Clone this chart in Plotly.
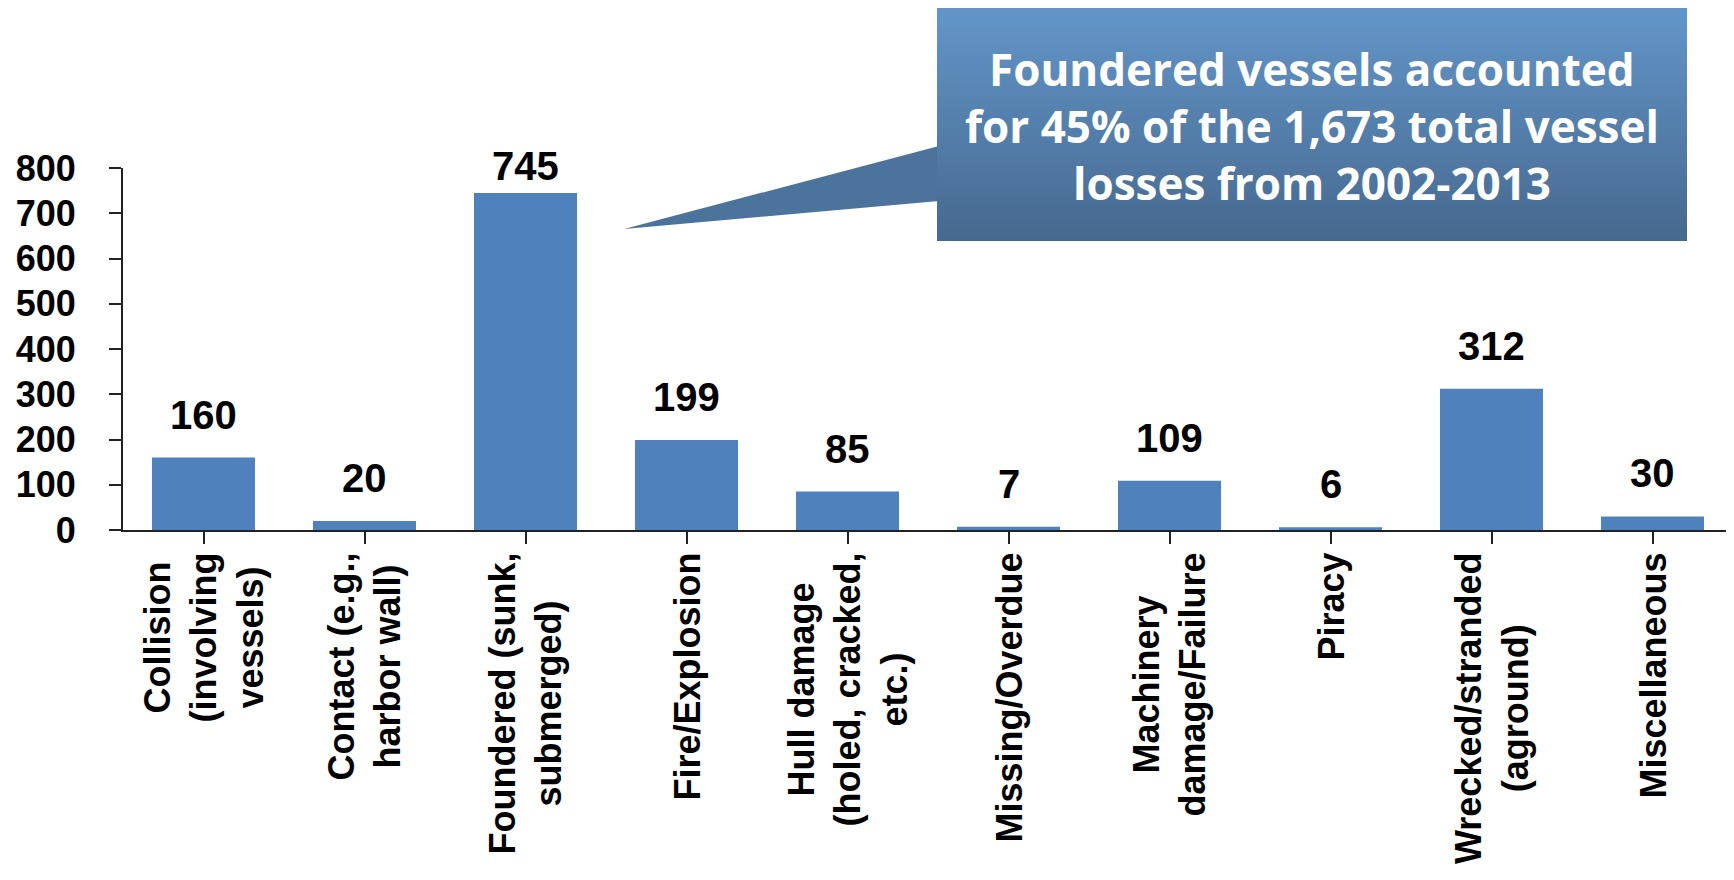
import plotly.graph_objects as go

# vessel losses by cause, 2002-2013
categories = [
    "Collision<br>(involving<br>vessels)",
    "Contact (e.g.,<br>harbor wall)",
    "Foundered (sunk,<br>submerged)",
    "Fire/Explosion",
    "Hull damage<br>(holed, cracked,<br>etc.)",
    "Missing/Overdue",
    "Machinery<br>damage/Failure",
    "Piracy",
    "Wrecked/stranded<br>(aground)",
    "Miscellaneous",
]
losses = [160, 20, 745, 199, 85, 7, 109, 6, 312, 30]
y_ticks = [0, 100, 200, 300, 400, 500, 600, 700, 800]

callout_lines = [
    "Foundered vessels accounted",
    "for 45% of the 1,673 total vessel",
    "losses from 2002-2013",
]

BAR_COLOR = "#4F81BD"
FONT = "Liberation Sans, Arial, sans-serif"

# page body has an 8px margin, so the figure is shrunk and shifted to suit
OFF = 8
W, H = 1734 - OFF, 880 - OFF
L, T, R = 123 - OFF, 168 - OFF, 1
PW, PH = W - L - R, 362
B = H - T - PH


# screen pixel -> paper coords
def px_x(x):
    return (x - OFF - L) / PW


def px_y(y):
    return (T + PH - (y - OFF)) / PH


fig = go.Figure()
fig.add_trace(go.Bar(
    x=list(range(len(categories))),
    y=losses,
    marker=dict(color=BAR_COLOR, line=dict(width=0)),
    width=0.64,
    hoverinfo="skip",
))

annotations = []

# value labels above bars (tallest one pushed down to fit)
label_cap = 709
for i, v in enumerate(losses):
    annotations.append(dict(
        x=i, y=min(v, label_cap), xref="x", yref="y",
        text=f"<b>{v}</b>", showarrow=False,
        yanchor="middle", yshift=43,
        font=dict(family=FONT, size=40, color="black"),
    ))

# category labels, rotated and centered
for i, c in enumerate(categories):
    annotations.append(dict(
        x=i, y=0, xref="x", yref="y",
        text=f"<b>{c}</b>", showarrow=False,
        textangle=-90, align="center",
        yanchor="top", yshift=-21,
        font=dict(family=FONT, size=36, color="black"),
    ))

# callout box with vertical gradient
top_rgb = (99, 150, 201)
bot_rgb = (70, 105, 143)
box_l, box_r, box_t, box_b = 937, 1687, 6, 241
n_strips = 47
step = (box_b - box_t) / n_strips
shapes = []

tail_y = 190
f = (tail_y - box_t) / (box_b - box_t)
tail_rgb = tuple(round(a + (b - a) * f) for a, b in zip(top_rgb, bot_rgb))
tail_path = "M {} {} L {} {} L {} {} Z".format(
    px_x(box_l + 2), px_y(146), px_x(624), px_y(229), px_x(box_l + 2), px_y(201))
shapes.append(dict(type="path", xref="paper", yref="paper", path=tail_path,
                   fillcolor="rgb({},{},{})".format(*tail_rgb), line=dict(width=0), layer="above"))

for k in range(n_strips):
    f = (k + 0.5) / n_strips
    rgb = tuple(round(a + (b - a) * f) for a, b in zip(top_rgb, bot_rgb))
    y0 = box_t + k * step
    y1 = min(box_t + (k + 1) * step + 0.8, box_b)
    shapes.append(dict(
        type="rect", xref="paper", yref="paper",
        x0=px_x(box_l), x1=px_x(box_r), y0=px_y(y1), y1=px_y(y0),
        fillcolor="rgb({},{},{})".format(*rgb), line=dict(width=0), layer="above",
    ))

# callout text, one annotation per line for tighter spacing
line_y = [69, 126, 183]
for ln, yy in zip(callout_lines, line_y):
    annotations.append(dict(
        x=px_x((box_l + box_r) / 2), y=px_y(yy),
        xref="paper", yref="paper", showarrow=False,
        xanchor="center", yanchor="middle",
        text=f"<b>{ln}</b>",
        font=dict(family="Open Sans, Lato, sans-serif", size=44, color="white"),
    ))

fig.update_layout(
    width=W, height=H,
    margin=dict(l=L, r=R, t=T, b=B, pad=0),
    plot_bgcolor="white", paper_bgcolor="white",
    showlegend=False,
    bargap=0.36,
    shapes=shapes,
    annotations=annotations,
    xaxis=dict(
        range=[-0.5, len(categories) - 0.5],
        tickmode="array", tickvals=list(range(len(categories))),
        showticklabels=False,
        tickson="boundaries", ticks="outside", ticklen=12, tickwidth=2, tickcolor="#222",
        showline=True, linecolor="#222", linewidth=2,
        showgrid=False, zeroline=False,
    ),
    yaxis=dict(
        range=[0, 800],
        tickmode="array", tickvals=y_ticks,
        ticks="outside", ticklen=12, tickwidth=2, tickcolor="#222",
        ticklabelstandoff=26,
        tickfont=dict(family=FONT, size=36, color="black", weight="bold"),
        showline=True, linecolor="#222", linewidth=2,
        showgrid=False, zeroline=False,
    ),
)

fig.write_html("out.html")
